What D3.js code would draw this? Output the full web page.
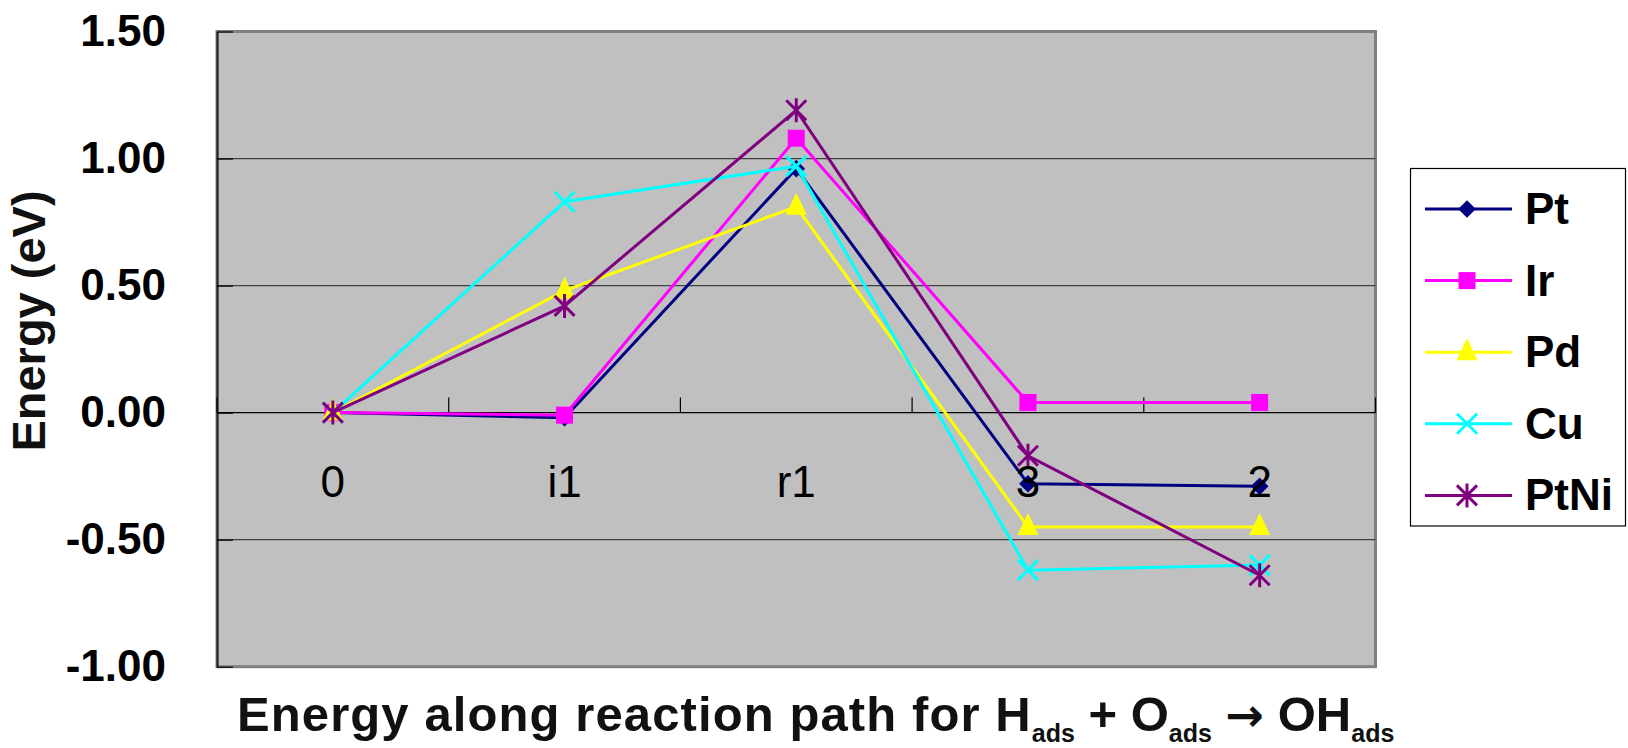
<!DOCTYPE html>
<html>
<head>
<meta charset="utf-8">
<script src="https://cdn.jsdelivr.net/npm/d3@7"></script>
<style>
  body { margin: 0; background: #fff; }
  svg { display: block; font-family: Arial, "Liberation Sans", sans-serif; }
</style>
</head>
<body>
<svg id="chart"></svg>
<script>
// data
let categories = ["0", "i1", "r1", "3", "2"];
let seriesNames = ["Pt", "Ir", "Pd", "Cu", "PtNi"];
let pt   = [0, -0.02, 0.96, -0.28, -0.29];
let ir   = [0, -0.01, 1.08, 0.04, 0.04];
let pd   = [0, 0.48, 0.81, -0.45, -0.45];
let cu   = [0, 0.83, 0.97, -0.62, -0.60];
let ptni = [0, 0.42, 1.19, -0.17, -0.64];
let yTicks = [-1.0, -0.5, 0, 0.5, 1.0, 1.5];

let colors = ["#000080", "#ff00ff", "#ffff00", "#00ffff", "#800080"];
let shapes = ["diamond", "square", "triangle", "x", "star"];
let allSeries = [pt, ir, pd, cu, ptni];

let W = 1628, H = 748;
let plot = { left: 217, right: 1375.5, top: 31.5, bottom: 666.7 };

let svg = d3.select("#chart").attr("width", W).attr("height", H);

let x = d3.scaleBand()
  .domain(categories)
  .range([plot.left, plot.right])
  .padding(0);
let y = d3.scaleLinear()
  .domain([-1, 1.5])
  .range([plot.bottom, plot.top]);
let cx = d => x(d) + x.bandwidth() / 2;

// plot area
svg.append("rect")
  .attr("x", plot.left).attr("y", plot.top)
  .attr("width", plot.right - plot.left).attr("height", plot.bottom - plot.top)
  .attr("fill", "#c0c0c0")
  .attr("stroke", "#808080")
  .attr("stroke-width", 3);

// gridlines
svg.append("g").selectAll("line")
  .data(yTicks.filter(v => v !== 0 && v > -1 && v < 1.5))
  .enter().append("line")
  .attr("x1", plot.left).attr("x2", plot.right)
  .attr("y1", d => y(d)).attr("y2", d => y(d))
  .attr("stroke", "#404040")
  .attr("stroke-width", 1.2);

// y axis
let fmt = d3.format(".2f");
let yAxis = d3.axisLeft(y)
  .tickValues(yTicks)
  .tickFormat(d => fmt(d).replace("\u2212", "-"))
  .tickSizeInner(-16)
  .tickSizeOuter(0)
  .tickPadding(51);
let gy = svg.append("g")
  .attr("transform", "translate(" + plot.left + ",0)")
  .call(yAxis);
gy.select(".domain").attr("stroke", "#202020").attr("stroke-width", 2);
gy.selectAll(".tick line").attr("stroke", "#000").attr("stroke-width", 1.2);
gy.selectAll(".tick text")
  .attr("font-size", 44)
  .attr("font-weight", "bold")
  .attr("fill", "#000")
  .attr("font-family", "Arial, 'Liberation Sans', sans-serif");

// x axis along zero
let gx = svg.append("g");
gx.append("line")
  .attr("x1", plot.left).attr("x2", plot.right)
  .attr("y1", y(0)).attr("y2", y(0))
  .attr("stroke", "#000").attr("stroke-width", 1.2);
let bounds = categories.map(c => x(c)).concat([plot.right]);
gx.selectAll(".xtick")
  .data(bounds)
  .enter().append("line")
  .attr("class", "xtick")
  .attr("x1", d => d).attr("x2", d => d)
  .attr("y1", y(0)).attr("y2", y(0) - 15)
  .attr("stroke", "#000").attr("stroke-width", 1.2);

// markers
function drawMarker(g, shape, color, px, py) {
  if (shape === "diamond") {
    g.append("path")
      .attr("d", d3.symbol().type(d3.symbolDiamond2).size(200)())
      .attr("transform", "translate(" + px + "," + py + ")")
      .attr("fill", color);
  } else if (shape === "square") {
    g.append("rect")
      .attr("x", px - 8.5).attr("y", py - 8.5)
      .attr("width", 17).attr("height", 17)
      .attr("fill", color);
  } else if (shape === "triangle") {
    g.append("path")
      .attr("d", "M0,-14L10.5,8L-10.5,8Z")
      .attr("transform", "translate(" + px + "," + py + ")")
      .attr("fill", color);
  } else if (shape === "x") {
    g.append("path")
      .attr("d", "M-10,-10L10,10M-10,10L10,-10")
      .attr("transform", "translate(" + px + "," + py + ")")
      .attr("stroke", color).attr("stroke-width", 3).attr("fill", "none");
  } else {
    g.append("path")
      .attr("d", "M-10,-10L10,10M-10,10L10,-10M0,-12L0,12")
      .attr("transform", "translate(" + px + "," + py + ")")
      .attr("stroke", color).attr("stroke-width", 3).attr("fill", "none");
  }
}

let line = d3.line()
  .x((d, i) => cx(categories[i]))
  .y(d => y(d));

allSeries.forEach((vals, si) => {
  let g = svg.append("g");
  g.append("path")
    .datum(vals)
    .attr("d", line)
    .attr("fill", "none")
    .attr("stroke", colors[si])
    .attr("stroke-width", 3);
  vals.forEach((v, i) => drawMarker(g, shapes[si], colors[si], cx(categories[i]), y(v)));
});

// category labels
svg.append("g").selectAll("text")
  .data(categories)
  .enter().append("text")
  .attr("x", d => cx(d))
  .attr("y", 497)
  .attr("text-anchor", "middle")
  .attr("font-size", 44)
  .attr("fill", "#000")
  .text(d => d);

// axis titles
svg.append("text")
  .attr("transform", "translate(45,321) rotate(-90)")
  .attr("text-anchor", "middle")
  .attr("font-size", 47)
  .attr("font-weight", "bold")
  .attr("fill", "#111")
  .text("Energy (eV)");

let xt = svg.append("text")
  .attr("x", 237).attr("y", 731)
  .attr("font-size", 49)
  .attr("font-weight", "bold")
  .attr("fill", "#111");
let parts = [["Energy along reaction path for H", 0], ["ads", 1], [" + O", 0], ["ads", 1], [" ", 0], ["\u2192", 2], [" OH", 0], ["ads", 1]];
let sub = false;
parts.forEach((p, i) => {
  let t = xt.append("tspan").text(p[0]);
  if (i === 0) t.attr("letter-spacing", 1.1);
  if (p[1] === 1) { t.attr("font-size", 25).attr("dy", 11); sub = true; }
  else {
    if (sub) { t.attr("dy", -11); sub = false; }
    if (p[1] === 2) t.attr("font-family", "'DejaVu Sans', sans-serif").attr("font-size", 46);
  }
});

// legend
let lg = svg.append("g");
lg.append("rect")
  .attr("x", 1410.5).attr("y", 168.5)
  .attr("width", 215).attr("height", 357.5)
  .attr("fill", "#fff")
  .attr("stroke", "#000").attr("stroke-width", 1.2);
seriesNames.forEach((name, i) => {
  let ly = 209 + i * 71.6;
  lg.append("line")
    .attr("x1", 1425).attr("x2", 1512)
    .attr("y1", ly).attr("y2", ly)
    .attr("stroke", colors[i]).attr("stroke-width", 3);
  drawMarker(lg, shapes[i], colors[i], 1467, ly);
  lg.append("text")
    .attr("x", 1525).attr("y", ly + 15)
    .attr("font-size", 44)
    .attr("font-weight", "bold")
    .attr("fill", "#000")
    .text(name);
});
</script>
</body>
</html>
